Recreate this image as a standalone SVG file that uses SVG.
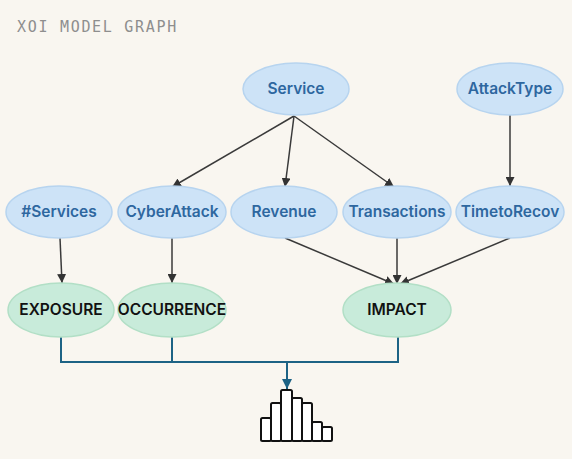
<svg xmlns="http://www.w3.org/2000/svg" width="572" height="459" viewBox="0 0 572 459">
<defs>
<marker id="ah" viewBox="0 0 10 10" refX="10" refY="5" markerWidth="9" markerHeight="9" markerUnits="userSpaceOnUse" orient="auto">
<path d="M0,0 L10,5 L0,10 z" fill="#333"/>
</marker>
<marker id="ahb" viewBox="0 0 10 10" refX="10" refY="5" markerWidth="10" markerHeight="10" markerUnits="userSpaceOnUse" orient="auto">
<path d="M0,0 L10,5 L0,10 z" fill="#1d6385"/>
</marker>
</defs>
<style>
.bg{fill:#f9f6f0}
.title{font-family:"DejaVu Sans Mono","Liberation Mono",monospace;font-size:15px;fill:#8e8e8e;letter-spacing:1.7px}
.bn ellipse{fill:#cde3f7;stroke:#b7d4ef;stroke-width:1.5}
.bn text{font-family:Inter,"Liberation Sans",sans-serif;font-size:15.5px;font-weight:600;fill:#2e679f;text-anchor:middle}
.gn ellipse{fill:#c8ebda;stroke:#b2dfc6;stroke-width:1.5}
.gn text{font-family:Inter,"Liberation Sans",sans-serif;font-size:15.5px;font-weight:600;fill:#111;text-anchor:middle}
.e{stroke:#3a3a3a;stroke-width:1.5;fill:none;marker-end:url(#ah)}
.bus{stroke:#1d6385;stroke-width:2;fill:none}
.bar{fill:#fff;stroke:#111;stroke-width:2}
</style>
<rect class="bg" x="0" y="0" width="572" height="459"/>
<text class="title" x="17" y="32">XOI MODEL GRAPH</text>
<g id="connectors">
<line class="e" x1="294" y1="116" x2="172" y2="187"/>
<line class="e" x1="294" y1="116" x2="285" y2="187"/>
<line class="e" x1="294" y1="116" x2="394" y2="187"/>
<line class="e" x1="510" y1="115" x2="510" y2="186"/>
<line class="e" x1="60" y1="238" x2="62" y2="283"/>
<line class="e" x1="172" y1="238" x2="172" y2="283"/>
<line class="e" x1="285" y1="238" x2="394" y2="284"/>
<line class="e" x1="397" y1="238" x2="397" y2="284"/>
<line class="e" x1="510" y1="238" x2="400" y2="284"/>
<path class="bus" d="M61,337 V362 H398 V337 M172,337 V362"/>
<line class="bus" x1="287" y1="362" x2="287" y2="389" marker-end="url(#ahb)"/>
</g>
<g id="Service" class="bn"><ellipse cx="296" cy="89" rx="53" ry="26"/><text x="296" y="94">Service</text></g>
<g id="AttackType" class="bn"><ellipse cx="510" cy="89" rx="53" ry="26"/><text x="510" y="94">AttackType</text></g>
<g id="Services" class="bn"><ellipse cx="59" cy="212" rx="53" ry="26"/><text x="59" y="217">#Services</text></g>
<g id="CyberAttack" class="bn"><ellipse cx="172" cy="212" rx="54" ry="26"/><text x="172" y="217">CyberAttack</text></g>
<g id="Revenue" class="bn"><ellipse cx="284" cy="212" rx="53" ry="26"/><text x="284" y="217">Revenue</text></g>
<g id="Transactions" class="bn"><ellipse cx="397" cy="212" rx="54" ry="26"/><text x="397" y="217">Transactions</text></g>
<g id="TimetoRecov" class="bn"><ellipse cx="510" cy="212" rx="54" ry="26"/><text x="510" y="217">TimetoRecov</text></g>
<g id="EXPOSURE" class="gn"><ellipse cx="61" cy="310" rx="53" ry="27"/><text x="61" y="315">EXPOSURE</text></g>
<g id="OCCURRENCE" class="gn"><ellipse cx="172" cy="310" rx="54" ry="27"/><text x="172" y="315">OCCURRENCE</text></g>
<g id="IMPACT" class="gn"><ellipse cx="397" cy="310" rx="54" ry="27"/><text x="397" y="315">IMPACT</text></g>
<g id="histogram">
<rect class="bar" x="261" y="418" width="10" height="23" rx="1.5"/>
<rect class="bar" x="271" y="403" width="10" height="38" rx="1.5"/>
<rect class="bar" x="281" y="390" width="11" height="51" rx="1.5"/>
<rect class="bar" x="292" y="398" width="10" height="43" rx="1.5"/>
<rect class="bar" x="302" y="403" width="10" height="38" rx="1.5"/>
<rect class="bar" x="312" y="422" width="10" height="19" rx="1.5"/>
<rect class="bar" x="322" y="427" width="10" height="14" rx="1.5"/>
</g>
</svg>
